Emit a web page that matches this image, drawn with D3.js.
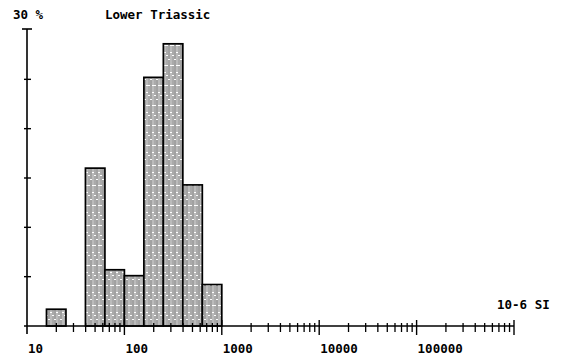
<!DOCTYPE html>
<html><head><meta charset="utf-8">
<script src="https://cdn.jsdelivr.net/npm/d3@7"></script>
<style>
html,body{margin:0;padding:0;background:#fff;}
text{font-family:"DejaVu Sans Mono","Liberation Mono",monospace;font-weight:bold;font-size:12.5px;fill:#000;}
</style></head>
<body><svg id="c" width="561" height="362"></svg>
<script>
// Data (bins 0.2 decade wide, lower edge given as log10 exponent)
const binLowExp = [1.2, 1.6, 1.8, 2.0, 2.2, 2.4, 2.6, 2.8];
const binWidthExp = 0.2;
const percent = [1.7, 16.0, 5.7, 5.1, 25.2, 28.6, 14.3, 4.2];
const xTickLabels = ["10", "100", "1000", "10000", "100000"];
const xTickValues = [10, 100, 1000, 10000, 100000];
const yTicks = [0, 5, 10, 15, 20, 25, 30];
const title = "Lower Triassic";
const yUnit = "30 %";
const xUnit = "10-6 SI";

const svg = d3.select("#c");
const x = d3.scaleLog().domain([10, 1e6]).range([27, 514]);
const y = d3.scaleLinear().domain([0, 30]).range([326, 30]);

const defs = svg.append("defs");
const pat = defs.append("pattern").attr("id","hatch").attr("patternUnits","userSpaceOnUse")
  .attr("width",6).attr("height",40);
pat.append("rect").attr("width",6).attr("height",40).attr("fill","#fff");
pat.append("line").attr("x1",1).attr("x2",1).attr("y1",0).attr("y2",40)
  .attr("stroke","#444").attr("stroke-width",1).attr("stroke-dasharray","19 1");
pat.append("line").attr("x1",3).attr("x2",3).attr("y1",0).attr("y2",40)
  .attr("stroke","#777").attr("stroke-width",1).attr("stroke-dasharray","12 1 6 1").attr("stroke-dashoffset",7);
pat.append("line").attr("x1",5).attr("x2",5).attr("y1",0).attr("y2",40)
  .attr("stroke","#555").attr("stroke-width",1).attr("stroke-dasharray","9 1").attr("stroke-dashoffset",4);

// bars
svg.append("g").selectAll("rect").data(percent).join("rect")
  .attr("x",(d,i)=>x(Math.pow(10,binLowExp[i])))
  .attr("width",(d,i)=>x(Math.pow(10,binLowExp[i]+binWidthExp))-x(Math.pow(10,binLowExp[i])))
  .attr("y",d=>y(d))
  .attr("height",d=>y(0)-y(d))
  .attr("fill","url(#hatch)")
  .attr("stroke","#000").attr("stroke-width",1.7);

// x axis line
const ax = svg.append("g").attr("stroke","#000");
ax.append("line").attr("x1",24).attr("x2",x(1e6)).attr("y1",y(0)).attr("y2",y(0)).attr("stroke-width",1.4);
// minor ticks
const minor = [];
for (let e=1;e<6;e++) for (let k=2;k<=9;k++) minor.push(k*Math.pow(10,e));
ax.selectAll("line.minor").data(minor).join("line").attr("class","minor")
  .attr("x1",d=>x(d)).attr("x2",d=>x(d)).attr("y1",y(0)-3).attr("y2",y(0)+6).attr("stroke-width",1.3);
// major ticks
const major = [100,1000,10000,100000,1e6];
ax.selectAll("line.major").data(major).join("line").attr("class","major")
  .attr("x1",d=>x(d)).attr("x2",d=>x(d)).attr("y1",y(0)-6).attr("y2",y(0)+9).attr("stroke-width",1.4);
// y axis
ax.append("line").attr("x1",x(10)).attr("x2",x(10)).attr("y1",y(30)-1).attr("y2",y(0)+8).attr("stroke-width",1.6);
ax.append("line").attr("x1",x(10)-5).attr("x2",x(10)+5).attr("y1",y(30)-1).attr("y2",y(30)-1).attr("stroke-width",1.6);
ax.selectAll("line.yt").data(yTicks.slice(1,-1)).join("line").attr("class","yt")
  .attr("x1",x(10)-3).attr("x2",x(10)+4).attr("y1",d=>y(d)).attr("y2",d=>y(d)).attr("stroke-width",1.4);

// x labels
svg.append("g").selectAll("text").data(xTickValues).join("text")
  .attr("x",d=>x(d)+1).attr("y",353).text((d,i)=>xTickLabels[i]);

svg.append("text").attr("x",13).attr("y",19).text(yUnit);
svg.append("text").attr("x",105).attr("y",19).text(title);
svg.append("text").attr("x",497).attr("y",309).text(xUnit);
</script></body></html>
